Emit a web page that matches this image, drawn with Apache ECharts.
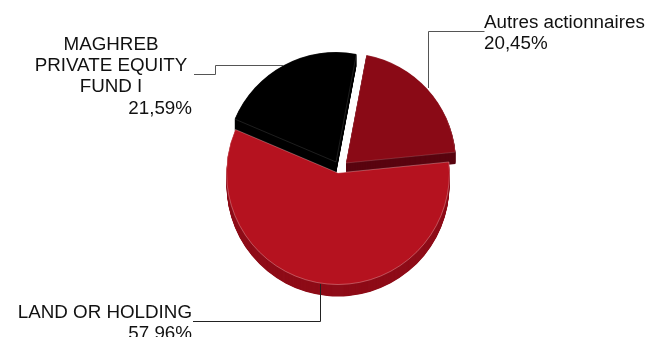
<!DOCTYPE html>
<html>
<head>
<meta charset="utf-8">
<style>html,body{margin:0;padding:0;background:#fff}#chart{width:645px;height:337px}</style>
<script src="https://cdn.jsdelivr.net/npm/echarts@6/dist/echarts.min.js"></script>
</head>
<body>
<div id="chart"></div>
<script>
// Shareholder breakdown, clockwise from the top of the pie
const categories = ['Autres actionnaires', 'LAND OR HOLDING', 'MAGHREB\nPRIVATE EQUITY\nFUND I'];
const shares = [20.45, 57.96, 21.59];

const topColors = ['#8a0a16', '#b5121f', '#000000'];
const sideColors = ['#5a0510', '#8e0c18', '#000000'];
const centers = [[346, 163], [338, 173], [336, 162]];
const radii = [110, 111.5, 110];
const edgeColors = ['rgba(255,255,255,0.25)', 'rgba(255,220,220,0.55)', 'rgba(255,255,255,0.2)'];

const DEPTH = 12;
const DEPTH_STEP = 0.5;
const START_ANGLE = 79.3;
const total = shares.reduce((a, b) => a + b, 0);

// One wedge as a two-item pie: the share plus an invisible remainder
function wedge(i, dy, color, border, startAngle) {
  return {
    type: 'pie',
    silent: true,
    animation: false,
    radius: [0, radii[i]],
    center: [centers[i][0], centers[i][1] + dy],
    startAngle,
    clockwise: true,
    label: { show: false },
    labelLine: { show: false },
    emphasis: { disabled: true },
    data: [
      { name: categories[i], value: shares[i],
        itemStyle: { color, borderColor: border || color, borderWidth: border ? 0.6 : 0 } },
      { name: 'rest', value: total - shares[i],
        itemStyle: { color: 'transparent', borderWidth: 0 } }
    ]
  };
}

// Paint order keeps the large slice over the two exploded ones
const series = [];
const startAngles = [];
let acc = START_ANGLE;
shares.forEach(v => { startAngles.push(acc); acc -= v / total * 360; });
[0, 2, 1].forEach(i => {
  for (let d = DEPTH; d > 0; d -= DEPTH_STEP) series.push(wedge(i, d, sideColors[i], null, startAngles[i]));
  series.push(wedge(i, 0, topColors[i], edgeColors[i], startAngles[i]));
});

const pct = v => v.toFixed(2).replace('.', ',') + '%';
const font = '18.8px "Liberation Sans", Arial, sans-serif';
const text = (x, y, str, align) => ({
  type: 'text', z: 10, silent: true,
  style: { x, y, text: str, font, fill: '#111', align, verticalAlign: 'middle', lineHeight: 21 }
});
const leader = (points, color) => ({
  type: 'polyline', z: 9, silent: true,
  shape: { points },
  style: { stroke: color, lineWidth: 1, fill: 'none' }
});

const chart = echarts.init(document.getElementById('chart'), null, { renderer: 'canvas' });
chart.setOption({
  backgroundColor: '#fff',
  animation: false,
  series,
  graphic: [
    leader([[484.5, 31.5], [428.5, 31.5], [428.5, 88]], '#555'),
    leader([[194, 74.5], [215.5, 74.5], [215.5, 65.5], [284, 65.5]], '#555'),
    leader([[193, 321.5], [320.5, 321.5], [320.5, 284]], '#222'),
    text(484, 23, categories[0], 'left'),
    text(484, 44, pct(shares[0]), 'left'),
    text(111, 66, categories[2], 'center'),
    text(192, 109, pct(shares[2]), 'right'),
    text(192, 313, categories[1], 'right'),
    text(192, 334, pct(shares[1]), 'right')
  ]
});
</script>
</body>
</html>
